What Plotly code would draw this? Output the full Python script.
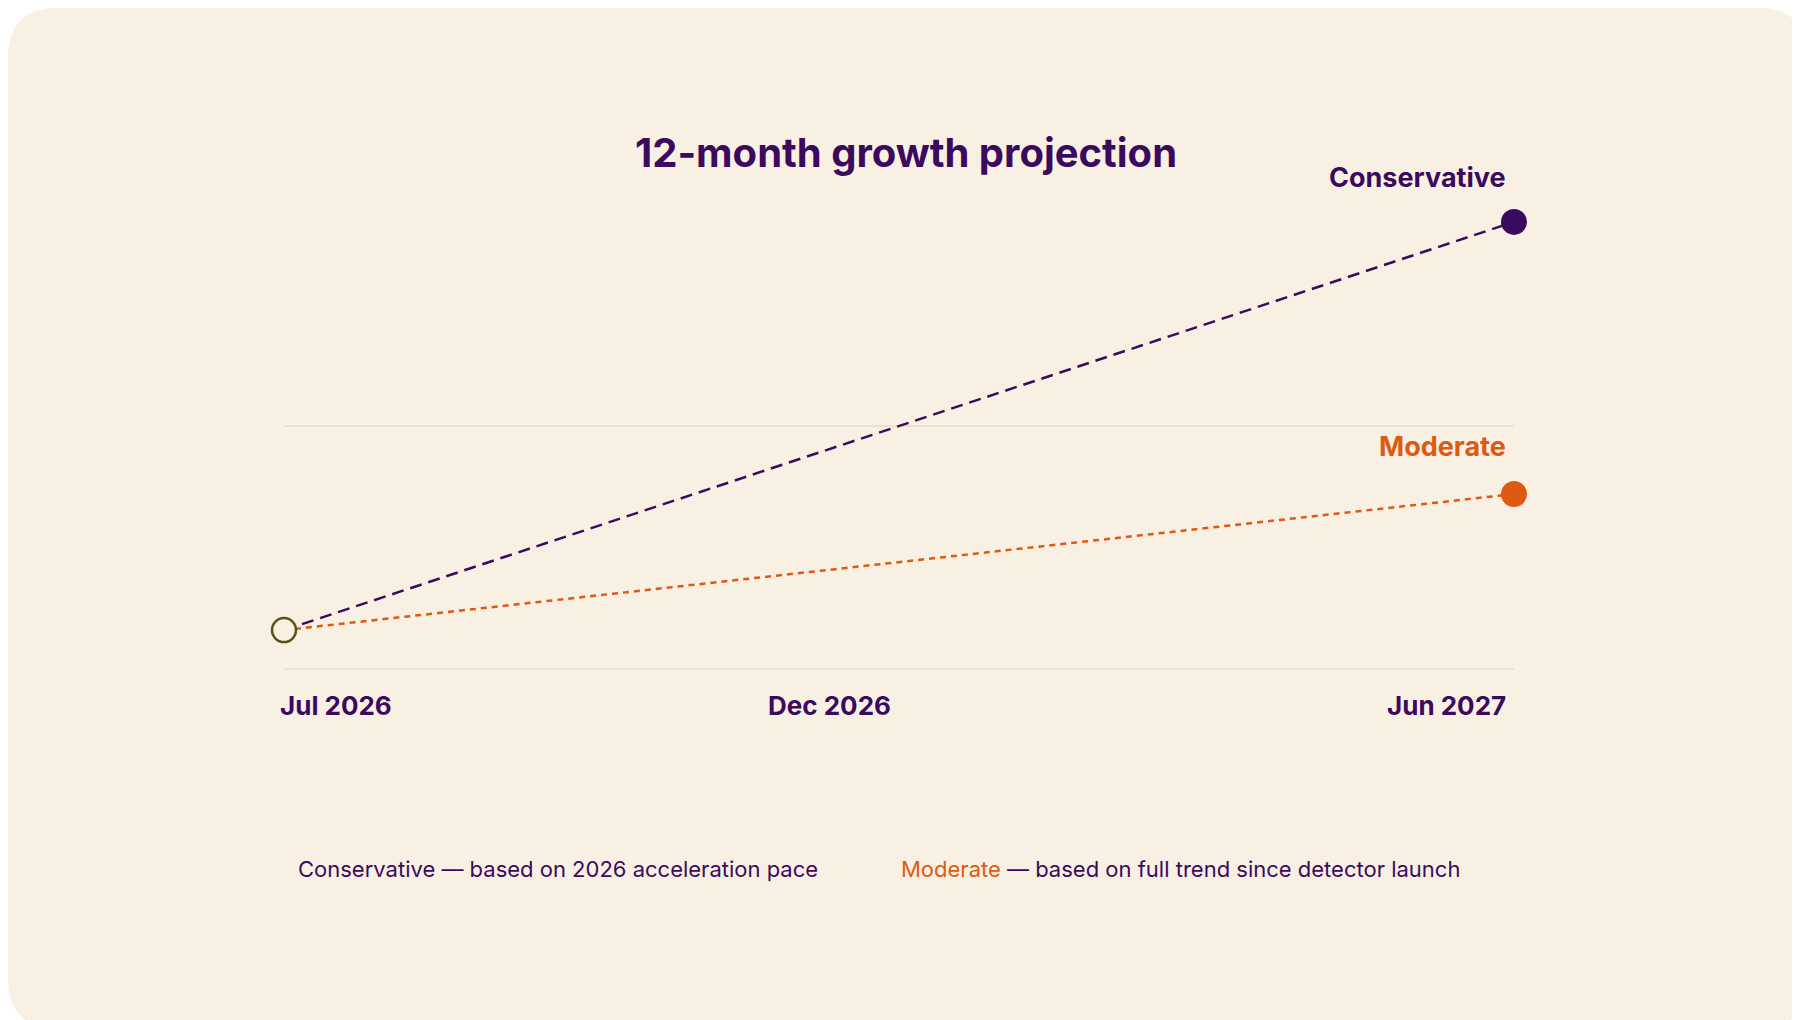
import plotly.graph_objects as go

# data (arbitrary index units, 0 = lower gridline)
months = [0, 11]
tick_pos = [0, 5, 11]
tick_labels = ["Jul 2026", "Dec 2026", "Jun 2027"]
conservative = [0.16, 1.84]
moderate = [0.16, 0.72]

PURPLE = "#3B0A5E"
ORANGE = "#DE5A12"
BG = "#F8F1E3"
GRID = "#ECE2CB"
FONT = "Inter"

W, H = 1800, 1020
L, R, T, B = 276, 294, 175, 359
pw, ph = W - L - R, H - T - B

fig = go.Figure()
fig.add_trace(go.Scatter(x=months, y=conservative, mode="lines",
                         line=dict(color=PURPLE, width=2.5, dash="12px,7px"), hoverinfo="skip"))
fig.add_trace(go.Scatter(x=months, y=moderate, mode="lines",
                         line=dict(color=ORANGE, width=2.5, dash="6px,5px"), hoverinfo="skip"))
fig.add_trace(go.Scatter(x=[months[1]], y=[conservative[1]], mode="markers",
                         marker=dict(color=PURPLE, size=26), cliponaxis=False))
fig.add_trace(go.Scatter(x=[months[1]], y=[moderate[1]], mode="markers",
                         marker=dict(color=ORANGE, size=26), cliponaxis=False))
fig.add_trace(go.Scatter(x=[months[0]], y=[conservative[0]], mode="markers",
                         marker=dict(color=BG, size=24, line=dict(color="#5C5212", width=2.5)),
                         cliponaxis=False))

# rounded card background over the whole page (paper coords = plot area)
x0, x1 = -L / pw, 1 + R / pw
y0, y1 = -B / ph, 1 + T / ph
rx, ry = 50 / pw, 50 / ph
path = ("M %f %f L %f %f Q %f %f %f %f L %f %f Q %f %f %f %f L %f %f Q %f %f %f %f L %f %f Q %f %f %f %f Z" % (
    x0, y0 + ry, x0, y1 - ry, x0, y1, x0 + rx, y1, x1 - rx, y1, x1, y1, x1, y1 - ry,
    x1, y0 + ry, x1, y0, x1 - rx, y0, x0 + rx, y0, x0, y0, x0, y0 + ry))
fig.add_shape(type="path", xref="paper", yref="paper", layer="below", path=path,
              fillcolor=BG, line=dict(width=0))

anns = []
for p, t in zip(tick_pos, tick_labels):
    xa = "left" if p == tick_pos[0] else ("right" if p == tick_pos[-1] else "center")
    xs = -6 if p == tick_pos[0] else (-6 if p == tick_pos[-1] else -14)
    anns.append(dict(x=p, y=0, xref="x", yref="y", yshift=-36, xshift=xs, xanchor=xa, yanchor="middle",
                     text="<b>%s</b>" % t, showarrow=False, font=dict(size=26, color=PURPLE)))
anns.append(dict(x=11, y=conservative[1], xref="x", yref="y", yshift=44, xshift=-6, xanchor="right",
                 text="<b>Conservative</b>", showarrow=False, font=dict(size=27, color=PURPLE)))
anns.append(dict(x=11, y=moderate[1], xref="x", yref="y", yshift=48, xshift=-6, xanchor="right",
                 text="<b>Moderate</b>", showarrow=False, font=dict(size=27, color=ORANGE)))
ly = (H - B - 861) / ph
anns.append(dict(x=(288 - L) / pw, y=ly, xref="paper", yref="paper", xanchor="left", yanchor="middle",
                 text="Conservative — based on 2026 acceleration pace", showarrow=False,
                 font=dict(size=22, color=PURPLE)))
anns.append(dict(x=(891 - L) / pw, y=ly, xref="paper", yref="paper", xanchor="left", yanchor="middle",
                 text="<span style='color:%s'>Moderate</span> — based on full trend since detector launch" % ORANGE,
                 showarrow=False, font=dict(size=22, color=PURPLE)))

fig.update_layout(
    width=W, height=H,
    paper_bgcolor="white", plot_bgcolor=BG,
    margin=dict(l=L, r=R, t=T, b=B),
    showlegend=False,
    font=dict(family=FONT),
    title=dict(text="<b>12-month growth projection</b>", x=898 / W, xanchor="center",
               y=1 - 145 / H, yanchor="middle", font=dict(size=40, color=PURPLE)),
    xaxis=dict(range=[0, 11], showgrid=False, zeroline=False, showticklabels=False, fixedrange=True),
    yaxis=dict(range=[0, 2], tickvals=[0, 1], showticklabels=False, gridcolor=GRID, gridwidth=2,
               zeroline=True, zerolinecolor=GRID, zerolinewidth=2, fixedrange=True),
    annotations=anns,
)

fig.write_html("out.html")
